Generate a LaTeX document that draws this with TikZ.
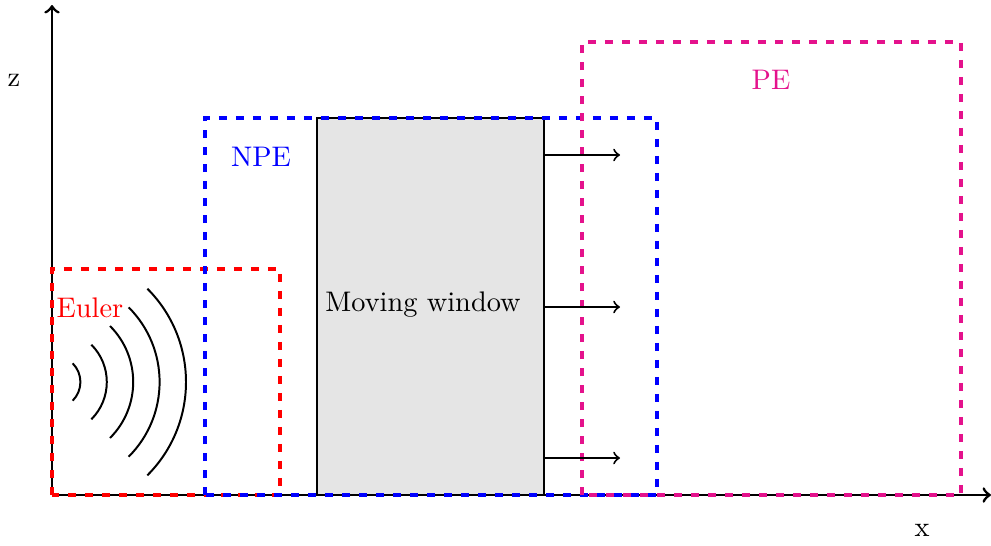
\documentclass[tikz,border=0pt]{standalone}
\definecolor{pecol}{RGB}{228,18,140}
\begin{document}
\begin{tikzpicture}[x=0.0124cm,y=0.0124cm]
			\tikzset{zone/.style={line width=1.1pt, dash pattern=on 3pt off 3pt},
				window/.style={draw=black, fill=black!10, line width=0.7pt, inner sep=0, outer sep=0, minimum width=2.815cm, minimum height=4.675cm}}
			\useasboundingbox (-52,-50) rectangle (939,495);

			% Axes
			\coordinate (o) at (0,0);
			\coordinate (xend) at (939,0);
			\coordinate (zend) at (0,490);
			\draw [line width=1pt, ->] (o) -- (xend);
			\draw [line width=1pt, ->] (o) -- (zend);
			\node at (-38,415) (zlab) {z};
			\node at (870,-35) (xlab) {x};

			% Moving window
			\node[window] at (378.5,188.5) (win) {};
			\node at (371,190) (wlab) {Moving window};

			% Domains
			\draw [zone, draw=red] (0,0) rectangle (228,226);
			\draw [zone, draw=blue] (153,0) rectangle (605,377);
			\draw [zone, draw=pecol] (530,0) rectangle (909,453);
			\node[text=red] at (38,187) (eul) {Euler};
			\node[text=blue] at (209,338) (npe) {NPE};
			\node[text=pecol] at (719,415) (pe) {PE};

			% Waves
			\coordinate (src) at (2,113);
			\foreach \r in {1,...,5}
				\draw [line width=0.7pt] (src) ++(-45:26.4*\r) arc (-45:45:26.4*\r);

			% Motion arrows
			\coordinate (t1) at (568,340);
			\coordinate (t2) at (568,188);
			\coordinate (t3) at (568,37);
			\draw [line width=0.7pt, ->] (win.east |- t1) -- (t1);
			\draw [line width=0.7pt, ->] (win.east |- t2) -- (t2);
			\draw [line width=0.7pt, ->] (win.east |- t3) -- (t3);
		\end{tikzpicture}
\end{document}
